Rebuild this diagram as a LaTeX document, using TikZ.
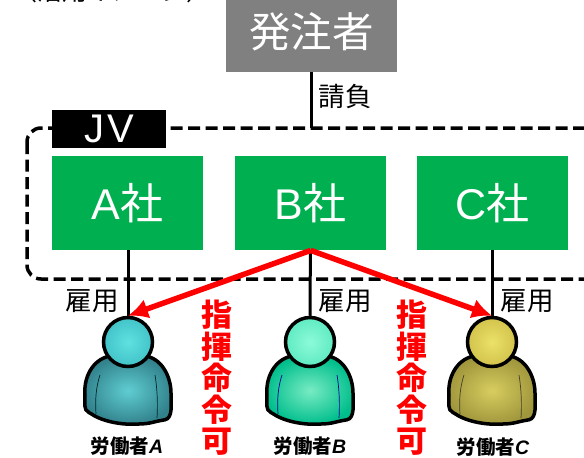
\documentclass[tikz,border=0pt]{standalone}
\usepackage{fontspec}
\usetikzlibrary{arrows.meta}
\setmainfont{Liberation Sans}
\newfontfamily\cjk{Noto Sans CJK JP}
\definecolor{boxgreen}{RGB}{0,176,80}
\definecolor{boxgray}{RGB}{128,128,128}
\definecolor{headA}{RGB}{95,225,225}\definecolor{rimA}{RGB}{65,195,200}
\definecolor{bodyA}{RGB}{95,205,210}\definecolor{edgeA}{RGB}{50,130,140}
\definecolor{headB}{RGB}{140,250,215}\definecolor{rimB}{RGB}{95,235,195}
\definecolor{bodyB}{RGB}{120,235,195}\definecolor{edgeB}{RGB}{0,190,140}
\definecolor{headC}{RGB}{235,225,105}\definecolor{rimC}{RGB}{210,195,75}
\definecolor{bodyC}{RGB}{215,205,95}\definecolor{edgeC}{RGB}{160,150,60}
\tikzset{
  firm/.style={fill=boxgreen,text=white,minimum width=151pt,minimum height=94pt,inner sep=0pt,font=\fontsize{43}{43}\selectfont},
  lbl/.style={inner sep=0pt,font=\cjk\fontsize{26.5}{26.5}\selectfont},
  link/.style={line width=3pt},
  order/.style={red,line width=5.5pt,-{Latex[length=20pt,width=20pt]}},
  command/.style={inner sep=0pt,text=red,align=center,font=\cjk\bfseries\fontsize{31}{31.5}\selectfont},
  wname/.style={inner sep=0pt,font=\cjk\bfseries\fontsize{19.5}{19.5}\selectfont},
  pics/worker/.style n args={5}{code={
    \draw[line width=3.5pt,rounded corners=1pt,inner color=#1,outer color=#2]
      (-18,14) .. controls (-36,18) and (-44,36) .. (-43,52)
      .. controls (-43,60) and (-45,68) .. (-38,71)
      .. controls (-25,80) and (-5,83) .. (10,82)
      .. controls (22,82) and (28,79) .. (36,78)
      .. controls (45,76) and (43,62) .. (43,52)
      .. controls (43,36) and (35,18) .. (18,14) -- cycle;
    \draw[#5,line width=0.7pt] (-28,33) .. controls (-32,45) and (-33,58) .. (-32,72);
    \draw[#5,line width=0.7pt] (27,33) .. controls (29,45) and (30,60) .. (29,76);
    \node[circle,draw,line width=3.5pt,inner color=#3,outer color=#4,minimum size=49pt,inner sep=0pt] (-head) at (0,0) {};
  }},
}
\begin{document}
\begin{tikzpicture}[x=1pt,y=-1pt]
   \useasboundingbox (0,0) rectangle (584,458);
   \begin{scope}
   \clip (0,0) rectangle (584,458);
   % top of the clipped title
   \node[inner sep=0pt,font=\cjk\fontsize{25}{25}\selectfont,anchor=west] at (12,-9) {（活用イメージ）};
   % dashed frame of the JV
   \draw[line width=3.5pt,dash pattern=on 12pt off 5.5pt,rounded corners=14pt] (27,128) rectangle (600,279);
   \node[fill=boxgray,text=white,minimum width=171pt,minimum height=72pt,inner sep=0pt,font=\cjk\fontsize{41.5}{41.5}\selectfont,anchor=north west] (client) at (226,0) {\raisebox{12pt}{発注者}};
   \end{scope}
   \coordinate (frametop) at (client.south |- 0,128);
   \node[fill=black,text=white,minimum width=114pt,minimum height=38pt,inner sep=0pt,font=\fontsize{40}{40}\selectfont,anchor=north west] (jv) at (52,110) {J\kern3pt V};
   \node[firm,anchor=north west] (compA) at (52,156) {A{\cjk 社}};
   \node[firm,anchor=north west] (compB) at (235,156) {B{\cjk 社}};
   \node[firm,anchor=north west] (compC) at (417,156) {C{\cjk 社}};
   \pic (workerA) at (128,342) {worker={bodyA}{edgeA}{headA}{rimA}{black!70!teal}};
   \pic (workerB) at (310,342) {worker={bodyB}{edgeB}{headB}{rimB}{blue!60!black}};
   \pic (workerC) at (492,342) {worker={bodyC}{edgeC}{headC}{rimC}{black!70!olive}};
   \draw[link] (client) -- (frametop);
   \draw[link] (compA.south -| workerA-head) -- (workerA-head.north);
   \draw[link] (compB) -- (workerB-head.north);
   \draw[link] (compC.south -| workerC-head) -- (workerC-head.north);
   \draw[order] (compB.south) -- (workerA-head.north);
   \draw[order] (compB.south) -- (workerC-head.north);
   \node[lbl] (contract) at (345,96) {請負};
   \node[lbl] (hireA) at (92,301) {雇用};
   \node[lbl] (hireB) at (345,301) {雇用};
   \node[lbl] (hireC) at (527,301) {雇用};
   \node[command] (orderL) at (217,378) {指\\揮\\命\\令\\可};
   \node[command] (orderR) at (412,378) {指\\揮\\命\\令\\可};
   \node[wname] (nameA) at (127,446) {労働者\textit{\fontspec{Liberation Sans}A}};
   \node[wname] (nameB) at (310,446) {労働者\textit{\fontspec{Liberation Sans}B}};
   \node[wname] (nameC) at (493,447) {労働者\textit{\fontspec{Liberation Sans}C}};
\end{tikzpicture}
\end{document}
